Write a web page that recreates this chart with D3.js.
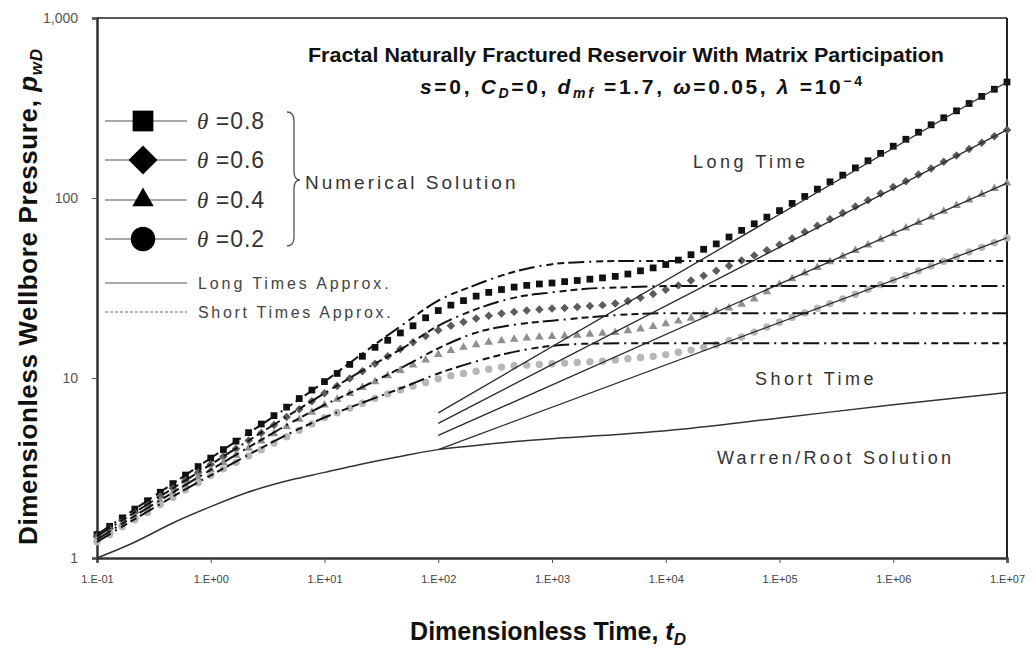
<!DOCTYPE html>
<html><head><meta charset="utf-8">
<script src="https://cdn.jsdelivr.net/npm/d3@7"></script>
<style>
body{margin:0;background:#fff}
text{font-family:"Liberation Sans",Arial,sans-serif}
</style>
</head><body>
<svg id="c" width="1036" height="648"></svg>
<script>
// ---- data ----
const timeExp = [
-1,-0.889,-0.778,-0.667,-0.556,-0.444,-0.333,-0.222,-0.111,
0,0.111,0.222,0.333,0.444,0.556,0.667,0.778,0.889,
1,1.111,1.222,1.333,1.444,1.556,1.667,1.778,1.889,
2,2.111,2.222,2.333,2.444,2.556,2.667,2.778,2.889,
3,3.111,3.222,3.333,3.444,3.556,3.667,3.778,3.889,
4,4.111,4.222,4.333,4.444,4.556,4.667,4.778,4.889,
5,5.111,5.222,5.333,5.444,5.556,5.667,5.778,5.889,
6,6.111,6.222,6.333,6.444,6.556,6.667,6.778,6.889,
7];
const theta08 = [
1.35,1.50,1.67,1.87,2.08,2.32,2.59,2.89,3.22,
3.59,4.00,4.46,4.97,5.55,6.18,6.89,7.69,8.57,
9.55,10.6,11.9,13.2,14.8,16.2,17.8,19.5,21.6,
23.7,25.4,26.9,28.5,29.9,31.0,32.0,32.7,33.3,
33.7,34.3,34.8,35.4,36.0,36.7,37.8,39.4,40.9,
42.7,45.2,48.4,51.9,55.6,60.7,66.1,71.9,78.3,
85.1,93.3,102,112,123,134,147,161,177,
194,212,232,255,279,305,335,367,402,
441];
const theta06 = [
1.32,1.46,1.62,1.79,1.99,2.20,2.44,2.70,2.99,
3.31,3.66,4.05,4.49,4.95,5.48,6.07,6.71,7.43,
8.22,9.04,9.93,10.9,12.0,13.2,14.5,15.8,17.1,
18.4,19.5,20.5,21.4,22.2,22.8,23.3,23.7,24.0,
24.3,24.5,24.8,25.1,25.4,25.9,26.8,27.9,29.3,
30.9,32.7,34.8,37.0,39.4,42.0,44.9,48.0,51.3,
55.0,59.6,64.7,70.2,76.2,82.6,89.7,97.3,106,
115,124,135,146,159,172,187,203,220,
239];
const theta04 = [
1.27,1.41,1.55,1.71,1.89,2.08,2.30,2.54,2.80,
3.09,3.39,3.72,4.07,4.47,4.90,5.37,5.89,6.46,
7.08,7.62,8.20,8.85,9.53,10.3,11.0,11.8,12.6,
13.5,14.2,14.8,15.3,15.8,16.1,16.4,16.7,16.9,
17.0,17.1,17.3,17.5,17.7,17.9,18.3,18.7,19.3,
20.0,20.7,21.5,22.4,23.4,24.5,25.7,27.5,30.1,
33.1,35.6,38.3,41.1,44.2,47.4,51.1,54.8,58.9,
63.2,68.1,73.1,78.5,84.5,90.8,97.5,105,113,
121];
const theta02 = [
1.23,1.35,1.49,1.63,1.79,1.98,2.17,2.39,2.62,
2.88,3.13,3.40,3.69,4.00,4.35,4.72,5.12,5.56,
6.03,6.41,6.81,7.24,7.71,8.17,8.59,9.02,9.44,
9.89,10.3,10.6,10.9,11.2,11.5,11.7,11.8,11.9,
12.0,12.1,12.2,12.3,12.4,12.6,12.8,13.0,13.2,
13.5,13.9,14.3,14.8,15.3,16.1,16.9,18.0,19.2,
20.4,21.7,23.0,24.4,25.9,27.5,29.2,31.0,33.0,
35.0,37.2,39.4,41.9,44.5,47.2,50.1,53.2,56.5,
60.0];

const shortTime = [0.1,1,10,20,50,100,200,500,1000,2000,5000,1e4,1e5,1e6,1e7];
const short08 = [1.35,3.59,9.55,13.2,20.0,26.9,32.4,39.4,42.9,44.2,44.7,44.7,44.7,44.7,44.7];
const short06 = [1.32,3.31,8.22,10.7,14.8,19.5,23.7,28.2,29.9,31.3,32.0,32.4,32.4,32.4,32.4];
const short04 = [1.27,3.09,7.08,8.71,11.6,14.6,17.6,19.9,20.8,21.7,22.6,22.9,22.9,22.9,22.9];
const short02 = [1.23,2.88,6.03,7.16,8.91,10.6,12.2,14.1,15.1,15.5,15.6,15.6,15.6,15.6,15.6];

const longTime = [100,1e7];
const long08 = [6.4,441];
const long06 = [5.6,239];
const long04 = [4.8,121];
const long02 = [4.0,60];

const wrTime = [0.1,0.2,0.5,1,2,5,10,20,50,100,200,500,1000,1e4,1e5,1e6,1e7];
const wrValues = [1.0,1.2,1.6,1.93,2.29,2.71,2.99,3.3,3.7,4.0,4.2,4.45,4.6,5.1,6.0,7.1,8.3];

const xTickValues = [0.1,1,10,100,1e3,1e4,1e5,1e6,1e7];
const xTickLabels = ["1.E-01","1.E+00","1.E+01","1.E+02","1.E+03","1.E+04","1.E+05","1.E+06","1.E+07"];
const yTickValues = [1,10,100,1000];
const yTickLabels = ["1","10","100","1,000"];
const legendThetas = ["0.8","0.6","0.4","0.2"];

// ---- drawing ----
const svg = d3.select("#c");
const x = d3.scaleLog().domain([0.1,1e7]).range([97,1007]);
const y = d3.scaleLog().domain([1,1000]).range([558,18]);
const tD = timeExp.map(e => Math.pow(10,e));

// frame
svg.append("line").attr("x1",97).attr("x2",1007).attr("y1",18).attr("y2",18).attr("stroke","#222").attr("stroke-width",1.5);
svg.append("line").attr("x1",1007).attr("x2",1007).attr("y1",18).attr("y2",558).attr("stroke","#222").attr("stroke-width",2);

// axes
const xAxis = d3.axisBottom(x).tickValues(xTickValues).tickFormat((d,i)=>xTickLabels[i]).tickSize(5).tickPadding(12);
const xa = svg.append("g").attr("transform","translate(0,558)").call(xAxis);
xa.select(".domain").attr("stroke","#333").attr("stroke-width",2.5);
xa.selectAll(".tick line").attr("stroke","#555");
xa.selectAll("text").attr("font-size","11px").attr("fill","#444").attr("font-family","Liberation Sans, Arial");

const yAxis = d3.axisLeft(y).tickValues(yTickValues).tickFormat((d,i)=>yTickLabels[i]).tickSize(5).tickPadding(14);
const ya = svg.append("g").attr("transform","translate(97,0)").call(yAxis);
ya.select(".domain").attr("stroke","#333").attr("stroke-width",2.5);
ya.selectAll(".tick line").attr("stroke","#555");
ya.selectAll("text").attr("font-size","14px").attr("fill","#555").attr("font-family","Liberation Sans, Arial");

// numerical solution markers
const defs = [
  {vals:theta08, sym:d3.symbolSquare, size:46, fill:"#111", rot:0},
  {vals:theta06, sym:d3.symbolSquare, size:36, fill:"#5c5c5c", rot:45},
  {vals:theta04, sym:d3.symbolTriangle, size:32, fill:"#8f8f8f", rot:0},
  {vals:theta02, sym:d3.symbolCircle, size:42, fill:"#b6b6b6", rot:0}
];
defs.forEach(s=>{
  const path = d3.symbol().type(s.sym).size(s.size)();
  svg.append("g").selectAll("path").data(s.vals).join("path")
    .attr("d",path)
    .attr("transform",(d,i)=>`translate(${x(tD[i])},${y(d)}) rotate(${s.rot})`)
    .attr("fill",s.fill);
});

// short time approximations (dash-dot)
const lineS = d3.line().x((d,i)=>x(shortTime[i])).y(d=>y(d)).curve(d3.curveMonotoneX);
[short08,short06,short04,short02].forEach(s=>{
  svg.append("path").attr("d",lineS(s)).attr("fill","none").attr("stroke","#111")
    .attr("stroke-width",2).attr("stroke-dasharray","16,5,2,5,7,4,7,4");
});

// long time approximations
const lineL = d3.line().x((d,i)=>x(longTime[i])).y(d=>y(d));
[long08,long06,long04,long02].forEach(s=>{
  svg.append("path").attr("d",lineL(s)).attr("fill","none").attr("stroke","#2a2a2a").attr("stroke-width",1.3);
});

// Warren/Root
const lineW = d3.line().x((d,i)=>x(wrTime[i])).y(d=>y(d)).curve(d3.curveMonotoneX);
svg.append("path").attr("d",lineW(wrValues)).attr("fill","none").attr("stroke","#333").attr("stroke-width",1.5);

// legend
const legY = [121,160,200,239];
const legSyms = [
  {sym:d3.symbolSquare,size:430,rot:0},
  {sym:d3.symbolSquare,size:420,rot:45},
  {sym:d3.symbolTriangle,size:200,rot:0},
  {sym:d3.symbolCircle,size:470,rot:0}
];
legY.forEach((yy,i)=>{
  svg.append("line").attr("x1",105).attr("x2",187).attr("y1",yy).attr("y2",yy).attr("stroke","#555").attr("stroke-width",1.2);
  svg.append("path").attr("d",d3.symbol().type(legSyms[i].sym).size(legSyms[i].size)())
    .attr("transform",`translate(143,${yy}) rotate(${legSyms[i].rot})`).attr("fill","#000");
  const t = svg.append("text").attr("x",197).attr("y",yy+8).attr("font-size","23px").attr("fill","#333");
  t.append("tspan").attr("font-family","Liberation Serif, serif").attr("font-style","italic").text("θ");
  t.append("tspan").text(" =" + legendThetas[i]).attr("letter-spacing","1px");
});
// brace
svg.append("path").attr("d","M287,112 Q294,112 294,121 L294,171 Q294,180 300,180 Q294,180 294,189 L294,237 Q294,246 287,246")
  .attr("fill","none").attr("stroke","#555").attr("stroke-width",1.3);
svg.append("text").attr("x",305).attr("y",189).attr("font-size","19px").attr("letter-spacing","3px").attr("fill","#333").text("Numerical Solution");

svg.append("line").attr("x1",105).attr("x2",187).attr("y1",283).attr("y2",283).attr("stroke","#555").attr("stroke-width",1.2);
svg.append("text").attr("x",198).attr("y",289).attr("font-size","16px").attr("letter-spacing","2.9px").attr("fill","#444").text("Long Times Approx.");
svg.append("line").attr("x1",105).attr("x2",187).attr("y1",312).attr("y2",312).attr("stroke","#666").attr("stroke-width",1.2).attr("stroke-dasharray","3,2");
svg.append("text").attr("x",198).attr("y",318).attr("font-size","16px").attr("letter-spacing","2.7px").attr("fill","#444").text("Short Times Approx.");

// annotations
svg.append("text").attr("x",693).attr("y",168).attr("font-size","18px").attr("letter-spacing","3.5px").attr("fill","#333").text("Long Time");
svg.append("text").attr("x",755).attr("y",385).attr("font-size","18px").attr("letter-spacing","3.5px").attr("fill","#333").text("Short Time");
svg.append("text").attr("x",717).attr("y",464).attr("font-size","18px").attr("letter-spacing","3.3px").attr("fill","#333").text("Warren/Root Solution");

// titles
svg.append("text").attr("x",308).attr("y",62).attr("font-size","21px").attr("font-weight","bold").attr("fill","#111")
  .attr("textLength",636).attr("lengthAdjust","spacingAndGlyphs")
  .text("Fractal Naturally Fractured Reservoir With Matrix Participation");
const st = svg.append("text").attr("x",420).attr("y",94).attr("font-size","21px").attr("font-weight","bold").attr("fill","#111")
  .attr("textLength",442).attr("lengthAdjust","spacing");
st.append("tspan").attr("font-style","italic").text("s");
st.append("tspan").text("=0, ");
st.append("tspan").attr("font-style","italic").text("C");
st.append("tspan").attr("font-style","italic").attr("font-size","14px").attr("dy",4).text("D");
st.append("tspan").attr("dy",-4).text("=0, ");
st.append("tspan").attr("font-style","italic").text("d");
st.append("tspan").attr("font-style","italic").attr("font-size","14px").attr("dy",4).text("mf");
st.append("tspan").attr("dy",-4).text(" =1.7, ");
st.append("tspan").attr("font-style","italic").text("ω");
st.append("tspan").text("=0.05, ");
st.append("tspan").attr("font-style","italic").text("λ");
st.append("tspan").text(" =10");
st.append("tspan").attr("font-size","14px").attr("dy",-8).text("−4");

// axis titles
const xt = svg.append("text").attr("x",548).attr("y",640).attr("text-anchor","middle").attr("font-size","25px").attr("font-weight","bold").attr("fill","#111");
xt.append("tspan").text("Dimensionless Time,  ");
xt.append("tspan").attr("font-style","italic").text("t");
xt.append("tspan").attr("font-style","italic").attr("font-size","17px").attr("dy",5).text("D");

const yt = svg.append("text").attr("transform","translate(37,297) rotate(-90)").attr("text-anchor","middle").attr("font-size","26px").attr("font-weight","bold").attr("fill","#111")
  .attr("textLength",496).attr("lengthAdjust","spacing");
yt.append("tspan").text("Dimensionless Wellbore Pressure, ");
yt.append("tspan").attr("font-style","italic").text("p");
yt.append("tspan").attr("font-style","italic").attr("font-size","17px").attr("dy",5).text("wD");
</script>
</body></html>
